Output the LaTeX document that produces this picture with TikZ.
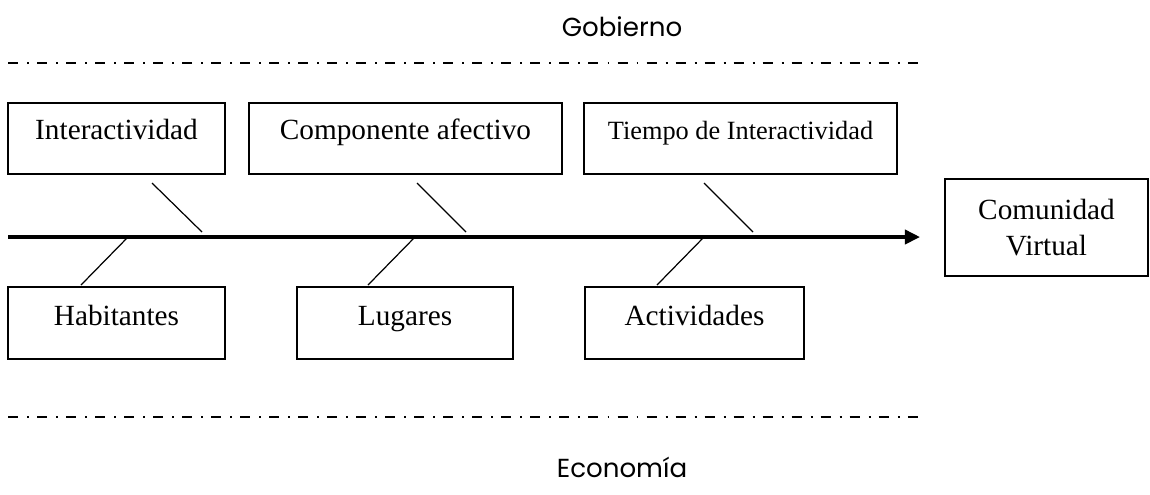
\documentclass[tikz,border=0pt]{standalone}
\usepackage{fontspec}
\setmainfont{Liberation Serif}
\newfontfamily\gothic{Poppins}
\usetikzlibrary{arrows.meta}

\begin{document}
\begin{tikzpicture}[x=0.41pt,y=-0.41pt,
  caja/.style={draw,line width=.6pt,inner sep=0pt,font=\fontsize{12}{14.5}\selectfont,text height=8.2pt,text depth=7pt},
  cajabaja/.style={caja,text depth=5.8pt},
  cajachica/.style={caja,font=\fontsize{10.8}{13}\selectfont,text height=7.3pt,text depth=6.3pt},
  efecto/.style={draw,line width=.6pt,inner sep=0pt,align=center,font=\fontsize{12}{14.5}\selectfont},
  espina/.style={line width=1.45pt,-{Triangle[length=6.2pt,width=5.8pt]}},
  hueso/.style={line width=.5pt},
  limite/.style={line width=.9pt,dash pattern=on 4.1pt off 3.7pt on .8pt off 3.3pt},
  rotulo/.style={font=\gothic\fontsize{10.7}{13}\selectfont}]
\useasboundingbox (0,0) rectangle (1150,494);
\node[rotulo] (gob) at (622,27) {Gobierno};
\node[rotulo] (eco) at (622,467) {Economía};
\draw[limite] (8,63) -- (920,63);
\draw[limite] (8,417) -- (920,417);
\node[caja, minimum width=89pt, minimum height=29.1pt] (inter) at (116.5,138.5) {Interactividad};
\node[caja, minimum width=128.3pt, minimum height=29.1pt] (afect) at (405.5,138.5) {Componente afectivo};
\node[cajachica, minimum width=128.3pt, minimum height=29.1pt] (tiempo) at (740.5,138.5) {Tiempo de Interactividad};
\node[cajabaja, minimum width=89pt, minimum height=29.5pt] (habit) at (116.5,323) {Habitantes};
\node[cajabaja, minimum width=88.6pt, minimum height=29.5pt] (lugar) at (405,323) {Lugares};
\node[cajabaja, minimum width=89.8pt, minimum height=29.5pt] (activ) at (694.5,323) {Actividades};
\node[efecto, minimum width=83.2pt, minimum height=39.8pt] (comun) at (1046.5,227.5) {Comunidad\\Virtual};
\coordinate (cola) at (8,237);
\coordinate (punta) at (920,237);
\draw[espina] (cola) -- (punta);
\coordinate (a1) at (152,183); \coordinate (b1) at (202,232);
\coordinate (a2) at (417,183); \coordinate (b2) at (466,232);
\coordinate (a3) at (704,183); \coordinate (b3) at (753,232);
\coordinate (c1) at (128,237); \coordinate (d1) at (81,285);
\coordinate (c2) at (415,237); \coordinate (d2) at (368,285);
\coordinate (c3) at (704,237); \coordinate (d3) at (657,285);
\draw[hueso] (a1) -- (b1);
\draw[hueso] (a2) -- (b2);
\draw[hueso] (a3) -- (b3);
\draw[hueso] (c1) -- (d1);
\draw[hueso] (c2) -- (d2);
\draw[hueso] (c3) -- (d3);
\end{tikzpicture}
\end{document}
